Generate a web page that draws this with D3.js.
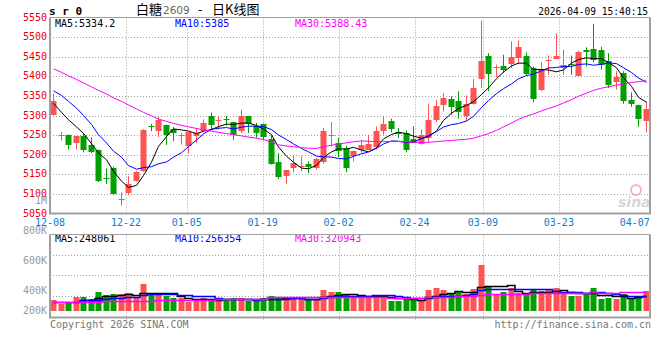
<!DOCTYPE html>
<html><head><meta charset="utf-8">
<script src="https://cdn.jsdelivr.net/npm/d3@7"></script>
<style>body{margin:0;background:#fff}svg{display:block}</style>
</head><body>
<svg id="c" width="660" height="360"></svg>
<script>
// ---------------- data ----------------
const dates = ['12-08','12-09','12-10','12-11','12-12','12-15','12-16','12-17','12-18','12-19',
  '12-22','12-23','12-24','12-25','12-26','12-29','12-30','12-31',
  '01-05','01-06','01-07','01-08','01-09','01-12','01-13','01-14','01-15','01-16',
  '01-19','01-20','01-21','01-22','01-23','01-26','01-27','01-28','01-29','01-30',
  '02-02','02-03','02-04','02-05','02-06','02-09','02-10','02-11','02-12','02-13',
  '02-24','02-25','02-26','02-27',
  '03-02','03-03','03-04','03-05','03-06','03-09','03-10','03-11','03-12','03-13',
  '03-16','03-17','03-18','03-19','03-20','03-23','03-24','03-25','03-26','03-27',
  '03-30','03-31','04-01','04-02','04-03','04-07','04-08','04-09'];
const open  = [5302,5248,5250,5230,5247,5226,5211,5140,5166,5086,
  5103,5132,5158,5274,5260,5277,5265,5250,5223,5247,
  5260,5298,5288,5290,5284,5260,5298,5272,5279,5241,
  5182,5145,5165,5169,5177,5166,5181,5248,5230,5217,
  5196,5211,5213,5219,5261,5287,5259,5255,5241,5227,
  5243,5288,5328,5343,5336,5298,5330,5393,5452,5420,
  5427,5432,5447,5451,5421,5366,5438,5445,5421,5432,
  5400,5468,5470,5468,5438,5385,5408,5340,5328,5285];
const high  = [5356,5258,5252,5247,5255,5244,5213,5165,5169,5104,
  5145,5158,5265,5279,5296,5277,5271,5255,5257,5268,
  5290,5308,5298,5299,5284,5315,5298,5281,5279,5249,
  5204,5160,5199,5196,5183,5192,5268,5283,5243,5223,
  5211,5238,5251,5272,5298,5292,5268,5262,5272,5264,
  5330,5340,5357,5349,5362,5351,5393,5542,5459,5430,
  5455,5489,5492,5461,5425,5436,5453,5509,5468,5453,
  5465,5474,5534,5475,5459,5413,5413,5359,5328,5336];
const low   = [5300,5236,5213,5213,5206,5204,5130,5125,5099,5070,
  5097,5131,5157,5260,5245,5225,5235,5226,5204,5230,
  5259,5264,5264,5274,5238,5255,5255,5243,5238,5175,
  5138,5126,5155,5158,5153,5162,5177,5221,5194,5155,
  5183,5204,5213,5213,5251,5257,5243,5206,5230,5226,
  5232,5283,5310,5302,5292,5285,5328,5370,5362,5398,
  5408,5421,5431,5402,5334,5362,5404,5444,5404,5404,
  5400,5425,5436,5417,5370,5366,5330,5322,5271,5257];
const close = [5338,5250,5224,5247,5213,5206,5132,5137,5101,5087,
  5126,5157,5264,5271,5288,5251,5255,5251,5257,5255,
  5281,5277,5289,5288,5251,5298,5279,5255,5245,5177,
  5143,5160,5179,5170,5168,5188,5260,5250,5209,5165,
  5210,5224,5228,5261,5279,5266,5252,5211,5230,5249,
  5288,5325,5345,5322,5308,5330,5370,5438,5407,5424,
  5415,5448,5474,5406,5342,5417,5441,5452,5430,5428,
  5463,5463,5441,5430,5379,5397,5336,5329,5291,5317];
const volume = [182000,110000,143000,226000,226000,193000,309000,259000,276000,276000,
  292000,209000,441000,292000,264000,253000,209000,209000,143000,193000,
  220000,198000,182000,193000,220000,220000,171000,171000,220000,253000,
  220000,226000,198000,198000,198000,198000,342000,320000,309000,264000,
  209000,253000,253000,253000,253000,165000,165000,209000,182000,171000,
  347000,375000,347000,292000,309000,276000,358000,760000,402000,276000,
  309000,375000,292000,264000,358000,331000,347000,391000,292000,253000,
  253000,276000,391000,193000,209000,193000,281000,193000,253000,331000];
const ma5Lead  = [5331,5308,5289,5271];
const ma10Lead = [5363,5351,5336,5319,5300,5277,5251,5230,5209];
const ma30Lead = [5419,5410,5401,5392,5383,5373,5364,5355,5345,5336,5327,5317,5308,5299,5291,
  5285,5280,5275,5271,5267,5263,5260,5257,5254,5251,5248,5245,5242,5239];
const volMa10Lead = [144000,144000,144000,144000,177000,177000,187000,198000,210000];
const volMa30Lead = [149000,150000,150000,151000,153000,156000,157000,160000,161000,164000,
  166000,167000,171000,173000,176000,177000,180000,182000,183000,186000,
  188000,189000,192000,193000,196000,197000,200000,201000,204000];
const priceTicks = [5550,5500,5450,5400,5350,5300,5250,5200,5150,5100,5050];
const volTickLabels = ['1M','800K','600K','400K','200K'];
const tickDates = ['12-08','12-22','01-05','01-19','02-02','02-24','03-09','03-23','04-07'];
const priceGridDates = ['12-22','01-05','01-19','02-02','02-24','03-09','03-23'];
const volGridDates = ['12-22','01-19','02-02','02-24','03-09','03-23'];
const priceLegend = ['MA5:5334.2','MA10:5385','MA30:5388.43'];
const volLegend = ['MA5:248061','MA10:256354','MA30:320943'];
const symbol = 's r 0';
const titleParts = ['白糖','2609','-','日K线图'];
const stamp = '2026-04-09 15:40:15';
const footLeft = 'Copyright 2026 SINA.COM';
const footRight = 'http://finance.sina.com.cn';

// ---------------- layout ----------------
const L = 50, R = 650, PT = 17.5, PB = 213.5, VT = 234.5, VB = 317.5, VBASE = 311;
const volLabelY = [200.7, 230.7, 260.7, 290, 310];
const MONO = '"DejaVu Sans Mono", monospace';
const RED = '#ff5252', GREEN = '#00a000', GRID = '#a0a0a0';
const maColors = ['#000000', '#0000ff', '#ff00ff'];

const svg = d3.select('#c');
const xb = d3.scaleBand().domain(dates).range([L, R]);
const xp = d3.scalePoint().domain(dates).range([L, R]);
const y = d3.scaleLinear().domain([5050, 5550]).range([PB, PT]);
const yv = d3.scaleLinear().domain([0, 1273000]).range([VBASE, VT]);
const cx = i => Math.floor(xb(dates[i]) + xb.bandwidth() / 2);

const rows = dates.map((d, i) => ({d, i, o: open[i], h: high[i], l: low[i], c: close[i], v: volume[i]}));
function ma(arr, n, lead) {
  return arr.map((_, i) => i < n - 1 ? (lead ? lead[i] : null) : d3.mean(arr.slice(i - n + 1, i + 1)));
}
const pMA = [ma(close, 5, ma5Lead), ma(close, 10, ma10Lead), ma(close, 30, ma30Lead)];
const vMA = [ma(volume, 5, null), ma(volume, 10, volMa10Lead), ma(volume, 30, volMa30Lead)];

// ---------------- header ----------------
svg.append('text').attr('x', 49).attr('y', 15).attr('font-family', MONO).attr('font-weight', 'bold')
  .attr('font-size', 11).attr('fill', '#000').text(symbol);
const tt = svg.append('text').attr('y', 14).attr('fill', '#000');
tt.append('tspan').attr('x', 136).attr('font-family', '"Noto Sans CJK SC"').attr('font-size', 13).text(titleParts[0]);
tt.append('tspan').attr('x', 163).attr('font-family', '"DejaVu Sans"').attr('font-size', 10.5).attr('fill', '#666').text(titleParts[1]);
tt.append('tspan').attr('x', 198).attr('font-family', '"Noto Sans CJK SC"').attr('font-size', 13).text(titleParts[2]);
tt.append('tspan').attr('x', 212).attr('font-family', '"Noto Sans CJK SC"').attr('font-size', 13).text(titleParts[3]);
svg.append('text').attr('x', 648).attr('y', 15).attr('text-anchor', 'end').attr('font-family', MONO)
  .attr('font-size', 9.6).attr('fill', '#000').text(stamp);

// ---------------- price panel ----------------
const gP = svg.append('g');
gP.selectAll('line.hg').data(priceTicks.filter(p => p !== 5550 && p !== 5050)).join('line')
  .attr('x1', L).attr('x2', R).attr('y1', p => Math.round(y(p)) + 0.5).attr('y2', p => Math.round(y(p)) + 0.5)
  .attr('stroke', GRID).attr('stroke-dasharray', '1,2');
gP.selectAll('line.vg').data(priceGridDates).join('line')
  .attr('x1', d => Math.round(xp(d)) + 0.5).attr('x2', d => Math.round(xp(d)) + 0.5)
  .attr('y1', PT).attr('y2', PB).attr('stroke', GRID).attr('stroke-dasharray', '1,2');
// price labels
svg.selectAll('text.pl').data(priceTicks).join('text')
  .attr('x', 47).attr('y', p => y(p) + 3).attr('text-anchor', 'end')
  .attr('font-family', MONO).attr('font-size', 10).attr('fill', '#ee0000').text(p => p);
// legend (with white backing)
function legend(g, items, yb) {
  const xs = [55, 175, 295];
  items.forEach((t, k) => {
    const tx = g.append('text').attr('x', xs[k]).attr('y', yb).attr('font-family', MONO)
      .attr('font-size', 10).attr('fill', maColors[k]).text(t);
    const w = tx.node().getComputedTextLength();
    g.insert('rect', () => tx.node()).attr('x', xs[k] - 1).attr('y', yb - 8).attr('width', w + 2)
      .attr('height', 10).attr('fill', '#fff');
  });
}
legend(gP, priceLegend, 27);
// candles
const cg = gP.append('g');
cg.selectAll('line.wick').data(rows).join('line')
  .attr('x1', r => cx(r.i) + 0.5).attr('x2', r => cx(r.i) + 0.5)
  .attr('y1', r => y(r.h)).attr('y2', r => y(r.l))
  .attr('stroke', r => r.c >= r.o ? RED : GREEN).attr('stroke-width', 1);
cg.selectAll('rect.body').data(rows).join('rect')
  .attr('x', r => cx(r.i) - 2.5).attr('width', 6)
  .attr('y', r => Math.round(y(Math.max(r.o, r.c))))
  .attr('height', r => Math.max(1, Math.round(y(Math.min(r.o, r.c))) - Math.round(y(Math.max(r.o, r.c)))))
  .attr('fill', r => r.c >= r.o ? RED : GREEN);
// MA lines
pMA.forEach((s, k) => {
  gP.append('path').datum(s.map((v, i) => [i, v]))
    .attr('d', d3.line().defined(p => p[1] != null).x(p => cx(p[0]) + 0.5).y(p => y(p[1])))
    .attr('fill', 'none').attr('stroke', maColors[k]).attr('stroke-width', 1);
});
// borders
gP.append('line').attr('x1', L).attr('x2', R).attr('y1', PT).attr('y2', PT).attr('stroke', GRID);
gP.append('path').attr('d', `M${L},${PT}V${PB}H${R}V${PT}`).attr('fill', 'none').attr('stroke', GRID).attr('stroke-width', 2);
// watermark
const wm = svg.append('g').attr('opacity', 0.55);
wm.append('circle').attr('cx', 636).attr('cy', 190).attr('r', 5).attr('fill', 'none').attr('stroke', '#f08080').attr('stroke-width', 2);
wm.append('text').attr('x', 618).attr('y', 207).attr('font-family', '"DejaVu Sans"').attr('font-style', 'italic')
  .attr('font-weight', 'bold').attr('font-size', 14).attr('fill', '#b8b8b8').text('sina');

// ---------------- date axis ----------------
svg.selectAll('text.dl').data(tickDates).join('text')
  .attr('x', d => xp(d)).attr('y', 225.5).attr('text-anchor', 'middle')
  .attr('font-family', MONO).attr('font-size', 10).attr('fill', '#0a80d0').text(d => d);

// ---------------- volume panel ----------------
const gV = svg.append('g');
[1, 2, 3].forEach(k => {
  const yy = Math.round(VT + (316 - VT) * k / 4) + 0.5;
  gV.append('line').attr('x1', L).attr('x2', R).attr('y1', yy).attr('y2', yy)
    .attr('stroke', GRID).attr('stroke-dasharray', '1,2');
});
gV.selectAll('line.vg').data(volGridDates).join('line')
  .attr('x1', d => Math.round(xp(d)) + 0.5).attr('x2', d => Math.round(xp(d)) + 0.5)
  .attr('y1', VT).attr('y2', VB + 2).attr('stroke', GRID).attr('stroke-dasharray', '1,2');
svg.selectAll('text.vl').data(volTickLabels).join('text')
  .attr('x', 47).attr('y', (t, k) => volLabelY[k] + 3.6).attr('text-anchor', 'end')
  .attr('font-family', MONO).attr('font-size', 10).attr('fill', '#999').text(t => t);
legend(gV, volLegend, 242);
gV.selectAll('rect.vb').data(rows).join('rect')
  .attr('x', r => cx(r.i) - 2.5).attr('width', 6)
  .attr('y', r => Math.round(yv(r.v))).attr('height', r => VBASE - Math.round(yv(r.v)))
  .attr('fill', r => r.c >= r.o ? RED : GREEN);
vMA.forEach((s, k) => {
  gV.append('path').datum(s.map((v, i) => [i, v]))
    .attr('d', d3.line().defined(p => p[1] != null).curve(d3.curveStep).x(p => cx(p[0]) + 0.5).y(p => Math.round(yv(p[1])) + 0.5))
    .attr('fill', 'none').attr('stroke', maColors[k]).attr('stroke-width', 1.5);
});
gV.append('line').attr('x1', L).attr('x2', R).attr('y1', VT).attr('y2', VT).attr('stroke', GRID);
gV.append('path').attr('d', `M${L},${VT}V${VB}H${R}V${VT}`).attr('fill', 'none').attr('stroke', GRID).attr('stroke-width', 2);

// ---------------- footer ----------------
svg.append('text').attr('x', 50).attr('y', 327.5).attr('font-family', MONO).attr('font-size', 10)
  .attr('fill', '#777').text(footLeft);
svg.append('text').attr('x', 651).attr('y', 327.5).attr('text-anchor', 'end').attr('font-family', MONO)
  .attr('font-size', 10).attr('fill', '#777').text(footRight);
</script>
</body></html>
